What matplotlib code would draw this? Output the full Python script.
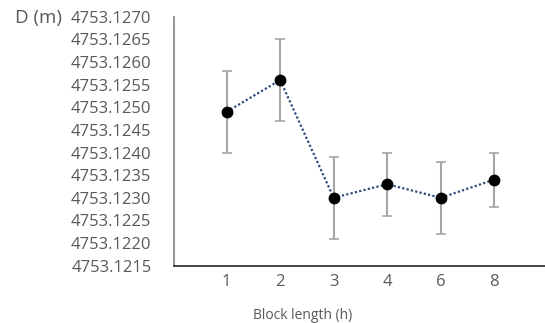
import matplotlib
matplotlib.use("Agg")
import matplotlib.pyplot as plt

categories = ["1", "2", "3", "4", "6", "8"]
values = [4753.1249, 4753.1256, 4753.1230, 4753.1233, 4753.1230, 4753.1234]
err_upper = [4753.1258, 4753.1265, 4753.1239, 4753.1240, 4753.1238, 4753.1240]
err_lower = [4753.1240, 4753.1247, 4753.1221, 4753.1226, 4753.1222, 4753.1228]
yticks = [4753.1215 + 0.0005 * i for i in range(12)]
ytick_labels = ["4753.1215", "4753.1220", "4753.1225", "4753.1230", "4753.1235",
                "4753.1240", "4753.1245", "4753.1250", "4753.1255", "4753.1260",
                "4753.1265", "4753.1270"]

plt.rcParams['font.family'] = ['Open Sans', 'DejaVu Sans']

fig = plt.figure(figsize=(5.45, 3.23), dpi=100)
ax = fig.add_axes([0.3187, 0.1774, 0.6813, 0.7709])

x = list(range(len(categories)))
yerr = [[v - lo for v, lo in zip(values, err_lower)],
        [hi - v for v, hi in zip(values, err_upper)]]

ax.errorbar(x, values, yerr=yerr, fmt='none', ecolor='#a6a6a6', elinewidth=1.5,
            capsize=3.5, capthick=1.2, zorder=2)
ax.plot(x, values, linestyle=(0, (1, 1.0)), color='#2f4b7c', linewidth=1.6, zorder=3)
ax.plot(x, values, linestyle='none', marker='o', markersize=7.5, color='black', zorder=4)

ax.set_ylim(4753.1215, 4753.1270)
ax.set_xlim(-0.99, 5.95)
ax.set_yticks(yticks, ytick_labels)
ax.set_xticks(x, categories)

for s in ['top', 'right']:
    ax.spines[s].set_visible(False)
ax.spines['left'].set_color('#7f7f7f')
ax.spines['left'].set_linewidth(1.2)
ax.spines['bottom'].set_color('#262626')
ax.spines['bottom'].set_linewidth(1.2)

ax.tick_params(axis='y', length=0, pad=16, labelsize=12, labelcolor='#595959')
ax.tick_params(axis='x', length=0, pad=6, labelsize=12, labelcolor='#595959')

ax.set_xlabel("Block length (h)", fontsize=10, color='#595959', labelpad=12)
ax.xaxis.set_label_coords(0.348, -0.17)
fig.text(15 / 545, 1 - 18 / 323, "D (m)", fontsize=13.5, color='#595959',
         ha='left', va='center')

fig.savefig("out.png", dpi=100)
